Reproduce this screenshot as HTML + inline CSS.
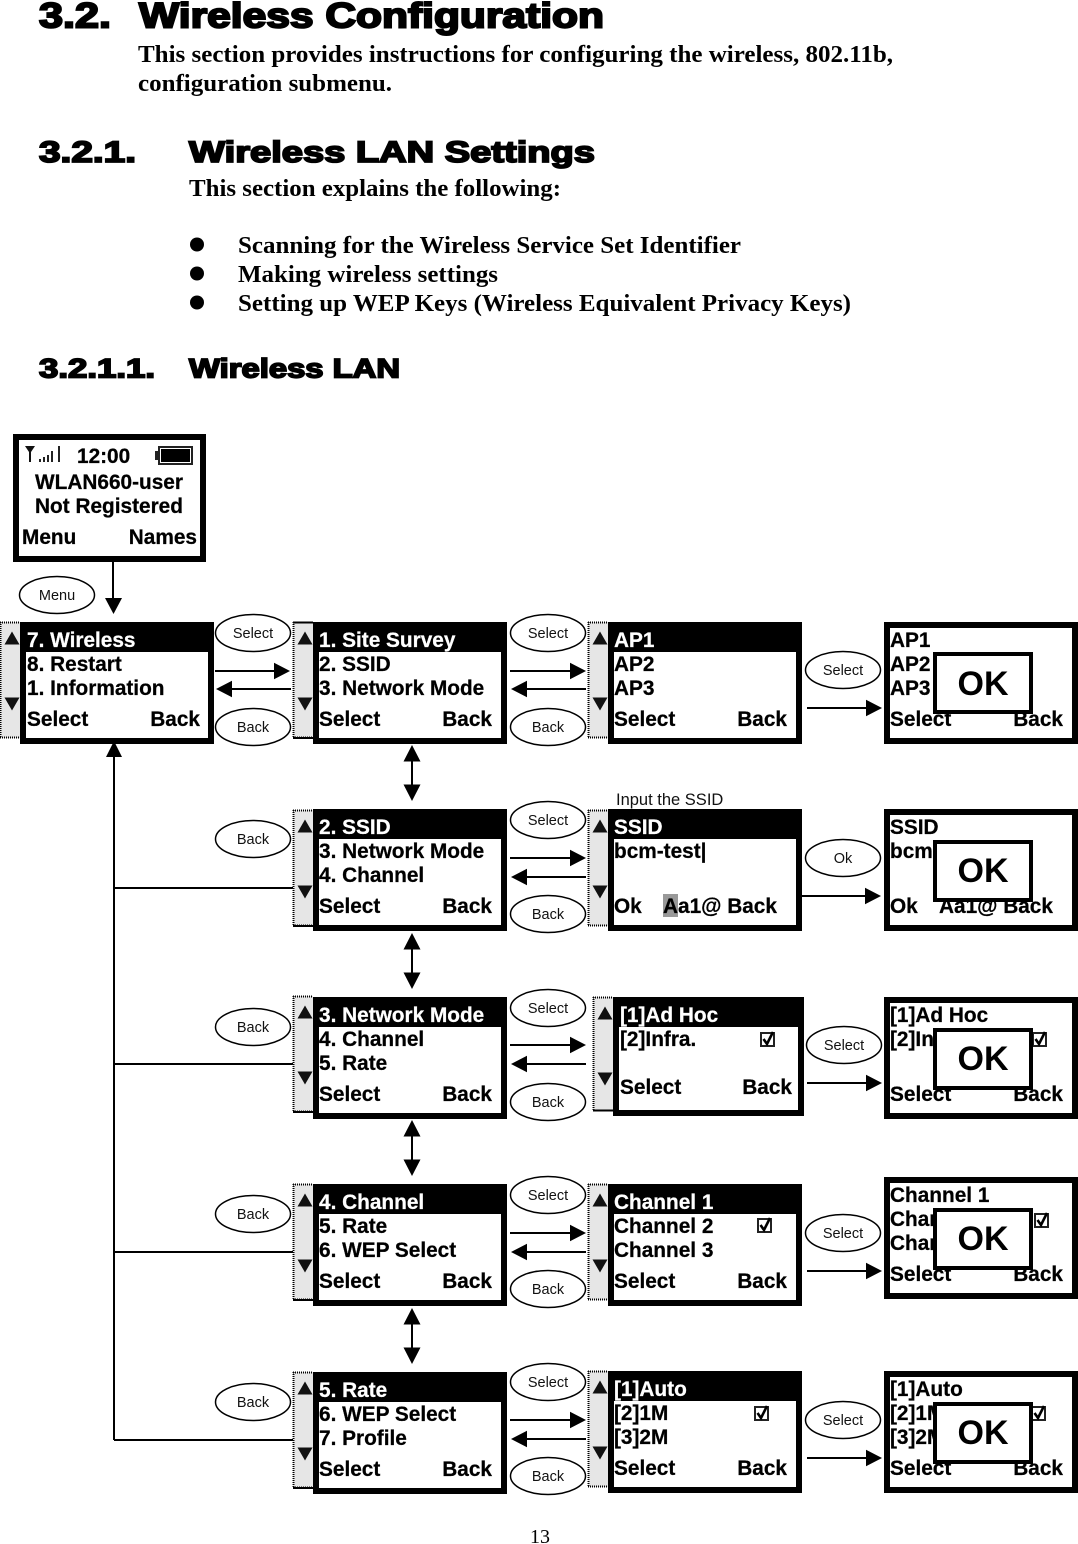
<!DOCTYPE html>
<html><head><meta charset="utf-8"><style>
html,body{margin:0;padding:0;background:#fff;width:1078px;height:1544px;overflow:hidden}
svg{display:block}
.h{font-family:"Liberation Sans",sans-serif;font-weight:bold;fill:#000;stroke:#000}
.b{font-family:"Liberation Serif",serif;font-weight:bold;font-size:24px;fill:#000}
.s{font-family:"Liberation Sans",sans-serif;font-weight:bold;font-size:20.8px;fill:#000;stroke:#000;stroke-width:.25px}
.s .w{fill:#fff;stroke:#fff}
.e{text-anchor:end}
.l{font-family:"Liberation Sans",sans-serif;font-size:14.5px;fill:#111;text-anchor:middle}
.ok{font-family:"Liberation Sans",sans-serif;font-weight:bold;font-size:34px;text-anchor:middle;fill:#000}
line{stroke:#000;stroke-width:2}
ellipse{fill:#fff;stroke:#000;stroke-width:1.5}
</style></head><body>
<svg width="1078" height="1544" viewBox="0 0 1078 1544" xmlns="http://www.w3.org/2000/svg">
<defs>
<g id="scr"><rect x="3" y="3" width="188" height="116" fill="#fff" stroke="#000" stroke-width="6"/><rect width="194" height="30" fill="#000"/></g>
<g id="scw"><rect x="3" y="3" width="188" height="116" fill="#fff" stroke="#000" stroke-width="6"/></g>
<g id="sb"><rect x="0" y="0" width="20" height="116" fill="#e6e6e6"/><line x1="0" y1="0.500" x2="20" y2="0.500" stroke-width="1" stroke-dasharray="1 1"/><line x1="0" y1="115.500" x2="20" y2="115.500" stroke-width="1" stroke-dasharray="1 1"/><line x1="0.500" y1="0" x2="0.500" y2="116" stroke-width="1" stroke-dasharray="1 1"/><path d="M12 9.500l7.500 13h-15z M4.500 75.500h15l-7.500 13z" fill="#111"/></g>
<path id="ar" d="M0 0l-16 -8.250v16.500z" fill="#000"/>
<path id="al" d="M0 0l16 -8.250v16.500z" fill="#000"/>
<g id="chk"><rect x="1" y="1" width="13" height="13" fill="#fff" stroke="#222" stroke-width="2"/><path d="M3.500 7l3.500 5l6 -12" fill="none" stroke="#000" stroke-width="2.600"/></g>
<g id="okb"><rect x="2" y="2" width="96" height="58" fill="#fff" stroke="#000" stroke-width="4"/></g>
<g id="da"><line x1="0" y1="14" x2="0" y2="42" stroke-width="2.500"/><path d="M0 0l8.500 16.500h-17z M-8.500 39.500h17l-8.500 16.500z" fill="#000"/></g>
</defs>

<!-- Headings -->
<text class="h" x="39" y="27.500" font-size="35" stroke-width="2" textLength="72" lengthAdjust="spacingAndGlyphs">3.2.</text>
<text class="h" x="139" y="27.500" font-size="35" stroke-width="2" textLength="465" lengthAdjust="spacingAndGlyphs">Wireless Configuration</text>
<text class="b" x="138" y="62" textLength="755" lengthAdjust="spacingAndGlyphs">This section provides instructions for configuring the wireless, 802.11b,</text>
<text class="b" x="138" y="91" textLength="254" lengthAdjust="spacingAndGlyphs">configuration submenu.</text>
<text class="h" x="39" y="162" font-size="30" stroke-width="1.800" textLength="97" lengthAdjust="spacingAndGlyphs">3.2.1.</text>
<text class="h" x="189" y="162" font-size="30" stroke-width="1.800" textLength="406" lengthAdjust="spacingAndGlyphs">Wireless LAN Settings</text>
<text class="b" x="189" y="196" textLength="372" lengthAdjust="spacingAndGlyphs">This section explains the following:</text>
<circle cx="197" cy="244.500" r="7"/><circle cx="197" cy="273.500" r="7"/><circle cx="197" cy="302.500" r="7"/>
<text class="b" x="238" y="253" textLength="503" lengthAdjust="spacingAndGlyphs">Scanning for the Wireless Service Set Identifier</text>
<text class="b" x="238" y="282" textLength="260" lengthAdjust="spacingAndGlyphs">Making wireless settings</text>
<text class="b" x="238" y="311" textLength="613" lengthAdjust="spacingAndGlyphs">Setting up WEP Keys (Wireless Equivalent Privacy Keys)</text>
<text class="h" x="39" y="377.500" font-size="27" stroke-width="1.700" textLength="116" lengthAdjust="spacingAndGlyphs">3.2.1.1.</text>
<text class="h" x="189" y="377.500" font-size="27" stroke-width="1.700" textLength="211" lengthAdjust="spacingAndGlyphs">Wireless LAN</text>

<!-- Home screen -->
<rect x="16" y="437" width="187" height="122" fill="#fff" stroke="#000" stroke-width="6"/>
<path d="M25 446h10l-4 6v10h-2v-10z" fill="#111"/>
<path d="M39 459h2v3h-2z M43 457h2v5h-2z M47 455h2v7h-2z M51 451h2v11h-2z M58 446h2v16h-2z" fill="#222"/>
<rect x="159" y="447" width="33" height="17" fill="#fff" stroke="#222" stroke-width="2"/><rect x="161" y="449" width="29" height="13" fill="#000"/><rect x="155" y="451" width="4" height="9" fill="#222"/>
<text class="s" x="77" y="463">12:00</text>
<text class="s" x="109" y="489" text-anchor="middle">WLAN660-user</text>
<text class="s" x="109" y="513" text-anchor="middle">Not Registered</text>
<text class="s" x="22" y="544">Menu</text>
<text class="s e" x="197" y="544">Names</text>

<line x1="113" y1="562" x2="113" y2="600"/><path d="M105 598h17l-8.500 16z" fill="#000"/>
<ellipse cx="57" cy="595" rx="37.500" ry="18.500"/><text class="l" x="57" y="600">Menu</text>

<!-- Left return line -->
<line x1="114" y1="750" x2="114" y2="1440" stroke-width="2"/>
<path d="M114 741l8 16h-16z" fill="#000"/>
<line x1="114" y1="888" x2="293" y2="888"/>
<line x1="114" y1="1064" x2="293" y2="1064"/>
<line x1="114" y1="1252" x2="293" y2="1252"/>
<line x1="114" y1="1440" x2="293" y2="1440"/>

<!-- Vertical double arrows -->
<use href="#da" x="412" y="745"/><use href="#da" x="412" y="933"/><use href="#da" x="412" y="1120"/><use href="#da" x="412" y="1308"/>

<!-- Scrollbars -->
<use href="#sb" x="0" y="622"/>
<use href="#sb" x="293" y="622"/><use href="#sb" x="293" y="810"/><use href="#sb" x="293" y="996"/><use href="#sb" x="293" y="1184"/><use href="#sb" x="293" y="1372"/>
<line x1="293" y1="622.500" x2="313" y2="622.500" stroke-width="1"/><line x1="293" y1="738" x2="313" y2="738" stroke-width="1.500"/>
<line x1="293" y1="926" x2="313" y2="926" stroke-width="1.500"/><line x1="293" y1="1112" x2="313" y2="1112" stroke-width="1.500"/>
<line x1="293" y1="1300" x2="313" y2="1300" stroke-width="1.500"/><line x1="293" y1="1488" x2="313" y2="1488" stroke-width="1.500"/>
<use href="#sb" x="588" y="622"/><use href="#sb" x="588" y="810"/><use href="#sb" x="593" y="997"/><rect x="592" y="1111" width="21" height="4" fill="#fff"/><line x1="593" y1="1110.500" x2="613" y2="1110.500" stroke-width="1.500"/><use href="#sb" x="588" y="1184"/><use href="#sb" x="588" y="1371"/>

<!-- Column 1 -->
<use href="#scr" x="20" y="622"/>
<g class="s"><text class="w" x="27" y="647">7. Wireless</text><text x="27" y="671">8. Restart</text><text x="27" y="695">1. Information</text><text x="27" y="726">Select</text><text class="e" x="200" y="726">Back</text></g>

<!-- Column 2 -->
<use href="#scr" x="313" y="622"/>
<g class="s"><text class="w" x="319" y="647">1. Site Survey</text><text x="319" y="671">2. SSID</text><text x="319" y="695">3. Network Mode</text><text x="319" y="726">Select</text><text class="e" x="492" y="726">Back</text></g>
<use href="#scr" x="313" y="809"/>
<g class="s"><text class="w" x="319" y="834">2. SSID</text><text x="319" y="858">3. Network Mode</text><text x="319" y="882">4. Channel</text><text x="319" y="913">Select</text><text class="e" x="492" y="913">Back</text></g>
<use href="#scr" x="313" y="997"/>
<g class="s"><text class="w" x="319" y="1022">3. Network Mode</text><text x="319" y="1046">4. Channel</text><text x="319" y="1070">5. Rate</text><text x="319" y="1101">Select</text><text class="e" x="492" y="1101">Back</text></g>
<use href="#scr" x="313" y="1184"/>
<g class="s"><text class="w" x="319" y="1209">4. Channel</text><text x="319" y="1233">5. Rate</text><text x="319" y="1257">6. WEP Select</text><text x="319" y="1288">Select</text><text class="e" x="492" y="1288">Back</text></g>
<use href="#scr" x="313" y="1372"/>
<g class="s"><text class="w" x="319" y="1397">5. Rate</text><text x="319" y="1421">6. WEP Select</text><text x="319" y="1445">7. Profile</text><text x="319" y="1476">Select</text><text class="e" x="492" y="1476">Back</text></g>

<!-- Column 3 -->
<use href="#scr" x="608" y="622"/>
<g class="s"><text class="w" x="614" y="647">AP1</text><text x="614" y="671">AP2</text><text x="614" y="695">AP3</text><text x="614" y="726">Select</text><text class="e" x="787" y="726">Back</text></g>
<text x="616" y="805" style="font-family:'Liberation Sans',sans-serif;font-size:16.500px" fill="#111">Input the SSID</text>
<use href="#scr" x="608" y="809"/>
<rect x="663" y="894" width="15" height="23" fill="#999"/>
<g class="s"><text class="w" x="614" y="834">SSID</text><text x="614" y="858">bcm-test|</text><text x="614" y="913">Ok</text><text x="663" y="913">Aa1@ Back</text></g>
<rect x="613" y="997" width="191" height="119" fill="#000"/><rect x="619" y="1027" width="179" height="83" fill="#fff"/>
<g class="s"><text class="w" x="620" y="1022">[1]Ad Hoc</text><text x="620" y="1046">[2]Infra.</text><text x="620" y="1094">Select</text><text class="e" x="792" y="1094">Back</text></g>
<use href="#chk" x="760" y="1032"/>
<use href="#scr" x="608" y="1184"/>
<g class="s"><text class="w" x="614" y="1209">Channel 1</text><text x="614" y="1233">Channel 2</text><text x="614" y="1257">Channel 3</text><text x="614" y="1288">Select</text><text class="e" x="787" y="1288">Back</text></g>
<use href="#chk" x="757" y="1218"/>
<use href="#scr" x="608" y="1371"/>
<g class="s"><text class="w" x="614" y="1396">[1]Auto</text><text x="614" y="1420">[2]1M</text><text x="614" y="1444">[3]2M</text><text x="614" y="1475">Select</text><text class="e" x="787" y="1475">Back</text></g>
<use href="#chk" x="754" y="1406"/>

<!-- Column 4 -->
<use href="#scw" x="884" y="622"/>
<g class="s"><text x="890" y="647">AP1</text><text x="890" y="671">AP2</text><text x="890" y="695">AP3</text><text x="890" y="726">Select</text><text class="e" x="1063" y="726">Back</text></g>
<use href="#okb" x="933" y="652"/><text class="ok" x="983" y="695">OK</text>
<use href="#scw" x="884" y="809"/>
<g class="s"><text x="890" y="834">SSID</text><text x="890" y="858">bcm-test</text><text x="890" y="913">Ok</text><text x="939" y="913">Aa1@ Back</text></g>
<use href="#okb" x="933" y="840"/><text class="ok" x="983" y="882">OK</text>
<use href="#scw" x="884" y="997"/>
<g class="s"><text x="890" y="1022">[1]Ad Hoc</text><text x="890" y="1046">[2]Infra.</text><text x="890" y="1101">Select</text><text class="e" x="1063" y="1101">Back</text></g>
<use href="#chk" x="1032" y="1032"/>
<use href="#okb" x="933" y="1028"/><text class="ok" x="983" y="1070">OK</text>
<use href="#scw" x="884" y="1177"/>
<g class="s"><text x="890" y="1202">Channel 1</text><text x="890" y="1226">Channel 2</text><text x="890" y="1250">Channel 3</text><text x="890" y="1281">Select</text><text class="e" x="1063" y="1281">Back</text></g>
<use href="#chk" x="1034" y="1213"/>
<use href="#okb" x="933" y="1208"/><text class="ok" x="983" y="1250">OK</text>
<use href="#scw" x="884" y="1371"/>
<g class="s"><text x="890" y="1396">[1]Auto</text><text x="890" y="1420">[2]1M</text><text x="890" y="1444">[3]2M</text><text x="890" y="1475">Select</text><text class="e" x="1063" y="1475">Back</text></g>
<use href="#chk" x="1031" y="1406"/>
<use href="#okb" x="933" y="1402"/><text class="ok" x="983" y="1444">OK</text>

<!-- Arrows -->
<line x1="215" y1="671" x2="278" y2="671"/><use href="#ar" x="290" y="671"/>
<line x1="228" y1="689" x2="291" y2="689"/><use href="#al" x="216" y="689"/>
<line x1="510" y1="671" x2="574" y2="671" stroke-width="1.500"/><use href="#ar" x="586" y="671"/>
<line x1="524" y1="689" x2="586" y2="689" stroke-width="1.500"/><use href="#al" x="511" y="689"/>
<line x1="807" y1="708" x2="870" y2="708"/><use href="#ar" x="882" y="708"/>

<line x1="510" y1="858" x2="574" y2="858"/><use href="#ar" x="586" y="858"/>
<line x1="524" y1="877" x2="586" y2="877"/><use href="#al" x="511" y="877"/>
<line x1="802" y1="896" x2="870" y2="896"/><use href="#ar" x="881" y="896"/>

<line x1="510" y1="1045" x2="574" y2="1045"/><use href="#ar" x="586" y="1045"/>
<line x1="524" y1="1064" x2="586" y2="1064" stroke-width="1.500"/><use href="#al" x="511" y="1064"/>
<line x1="807" y1="1083" x2="870" y2="1083"/><use href="#ar" x="882" y="1083"/>

<line x1="510" y1="1233" x2="574" y2="1233"/><use href="#ar" x="586" y="1233"/>
<line x1="524" y1="1252" x2="586" y2="1252"/><use href="#al" x="511" y="1252"/>
<line x1="807" y1="1271" x2="870" y2="1271"/><use href="#ar" x="882" y="1271"/>

<line x1="510" y1="1420" x2="574" y2="1420"/><use href="#ar" x="586" y="1420"/>
<line x1="524" y1="1439" x2="586" y2="1439" stroke-width="1.500"/><use href="#al" x="511" y="1439"/>
<line x1="807" y1="1458" x2="870" y2="1458"/><use href="#ar" x="882" y="1458"/>

<!-- Ellipses -->
<ellipse cx="253" cy="633" rx="37.500" ry="18.500"/><text class="l" x="253" y="638">Select</text>
<ellipse cx="253" cy="727" rx="37.500" ry="18.500"/><text class="l" x="253" y="732">Back</text>
<ellipse cx="253" cy="839" rx="37.500" ry="18.500"/><text class="l" x="253" y="844">Back</text>
<ellipse cx="253" cy="1027" rx="37.500" ry="18.500"/><text class="l" x="253" y="1032">Back</text>
<ellipse cx="253" cy="1214" rx="37.500" ry="18.500"/><text class="l" x="253" y="1219">Back</text>
<ellipse cx="253" cy="1402" rx="37.500" ry="18.500"/><text class="l" x="253" y="1407">Back</text>

<ellipse cx="548" cy="633" rx="37.500" ry="18.500"/><text class="l" x="548" y="638">Select</text>
<ellipse cx="548" cy="727" rx="37.500" ry="18.500"/><text class="l" x="548" y="732">Back</text>
<ellipse cx="548" cy="820" rx="37.500" ry="18.500"/><text class="l" x="548" y="825">Select</text>
<ellipse cx="548" cy="914" rx="37.500" ry="18.500"/><text class="l" x="548" y="919">Back</text>
<ellipse cx="548" cy="1008" rx="37.500" ry="18.500"/><text class="l" x="548" y="1013">Select</text>
<ellipse cx="548" cy="1102" rx="37.500" ry="18.500"/><text class="l" x="548" y="1107">Back</text>
<ellipse cx="548" cy="1195" rx="37.500" ry="18.500"/><text class="l" x="548" y="1200">Select</text>
<ellipse cx="548" cy="1289" rx="37.500" ry="18.500"/><text class="l" x="548" y="1294">Back</text>
<ellipse cx="548" cy="1382" rx="37.500" ry="18.500"/><text class="l" x="548" y="1387">Select</text>
<ellipse cx="548" cy="1476" rx="37.500" ry="18.500"/><text class="l" x="548" y="1481">Back</text>

<ellipse cx="843" cy="670" rx="37.500" ry="18.500"/><text class="l" x="843" y="675">Select</text>
<ellipse cx="843" cy="858" rx="37.500" ry="18.500"/><text class="l" x="843" y="863">Ok</text>
<ellipse cx="844" cy="1045" rx="37.500" ry="18.500"/><text class="l" x="844" y="1050">Select</text>
<ellipse cx="843" cy="1233" rx="37.500" ry="18.500"/><text class="l" x="843" y="1238">Select</text>
<ellipse cx="843" cy="1420" rx="37.500" ry="18.500"/><text class="l" x="843" y="1425">Select</text>

<text x="540" y="1543" text-anchor="middle" style="font-family:'Liberation Serif',serif;font-size:20px" fill="#000">13</text>
</svg>
</body></html>
